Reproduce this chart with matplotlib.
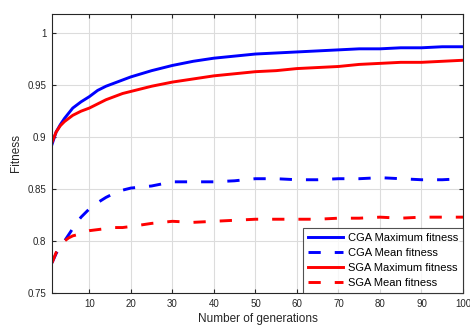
import numpy as np
import matplotlib
matplotlib.use("Agg")
import matplotlib.pyplot as plt

plt.rcParams['font.family'] = ['Liberation Sans', 'DejaVu Sans']

gens = [1, 2, 3, 4, 5, 6, 7, 8, 10, 12, 14, 16, 18, 20, 25, 30, 35, 40, 45, 50,
        55, 60, 65, 70, 75, 80, 85, 90, 95, 100]
cga_max = [0.893, 0.905, 0.912, 0.918, 0.923, 0.928, 0.931, 0.934, 0.939, 0.945,
           0.949, 0.952, 0.955, 0.958, 0.964, 0.969, 0.973, 0.976, 0.978, 0.980,
           0.981, 0.982, 0.983, 0.984, 0.985, 0.985, 0.986, 0.986, 0.987, 0.987]
sga_max = [0.895, 0.905, 0.911, 0.915, 0.918, 0.921, 0.923, 0.925, 0.928, 0.932,
           0.936, 0.939, 0.942, 0.944, 0.949, 0.953, 0.956, 0.959, 0.961, 0.963,
           0.964, 0.966, 0.967, 0.968, 0.970, 0.971, 0.972, 0.972, 0.973, 0.974]
cga_mean = [0.779, 0.788, 0.795, 0.800, 0.806, 0.812, 0.818, 0.823, 0.831, 0.837,
            0.842, 0.846, 0.849, 0.851, 0.853, 0.857, 0.857, 0.857, 0.858, 0.860,
            0.860, 0.859, 0.859, 0.860, 0.860, 0.861, 0.860, 0.859, 0.859, 0.860]
sga_mean = [0.779, 0.789, 0.796, 0.800, 0.803, 0.805, 0.806, 0.808, 0.810, 0.811,
            0.812, 0.813, 0.813, 0.814, 0.817, 0.819, 0.818, 0.819, 0.820, 0.821,
            0.821, 0.821, 0.821, 0.822, 0.822, 0.823, 0.822, 0.823, 0.823, 0.823]

fig = plt.figure(figsize=(4.7, 3.25), dpi=100)
ax = fig.add_axes([52/470, 1-293/325, (463-52)/470, (293-13.5)/325])

dash = (0, (4.2, 4.8))
ax.plot(gens, cga_max, color='#0000ff', lw=2.1, label='CGA Maximum fitness')
ax.plot(gens, cga_mean, color='#0000ff', lw=2.1, ls=dash, label='CGA Mean fitness')
ax.plot(gens, sga_max, color='#ff0000', lw=2.1, label='SGA Maximum fitness')
ax.plot(gens, sga_mean, color='#ff0000', lw=2.1, ls=dash, label='SGA Mean fitness')

ax.set_xlim(1, 100)
ax.set_ylim(0.75, 1.019)
ax.set_xticks(np.arange(10, 101, 10))
ax.set_yticks([0.75, 0.8, 0.85, 0.9, 0.95, 1])
ax.set_yticklabels(['0.75', '0.8', '0.85', '0.9', '0.95', '1'])
ax.grid(True, color='#dcdcdc', lw=0.8)
ax.set_axisbelow(True)
ax.tick_params(direction='in', top=True, right=True, labelsize=7,
               colors='#262626', length=3, width=0.8, pad=4)
for s in ax.spines.values():
    s.set_color('#262626')
    s.set_linewidth(0.8)
ax.set_xlabel('Number of generations', fontsize=8.5, color='#262626', labelpad=3)
ax.set_ylabel('Fitness', fontsize=8.5, color='#262626', labelpad=4)

leg = ax.legend(loc='lower right', fontsize=8, frameon=True, fancybox=False,
                edgecolor='#262626', borderaxespad=0, handlelength=3.15,
                borderpad=0.45, labelspacing=0.44, handletextpad=0.45)
leg.get_frame().set_linewidth(0.8)

fig.savefig('out.png', dpi=100)
